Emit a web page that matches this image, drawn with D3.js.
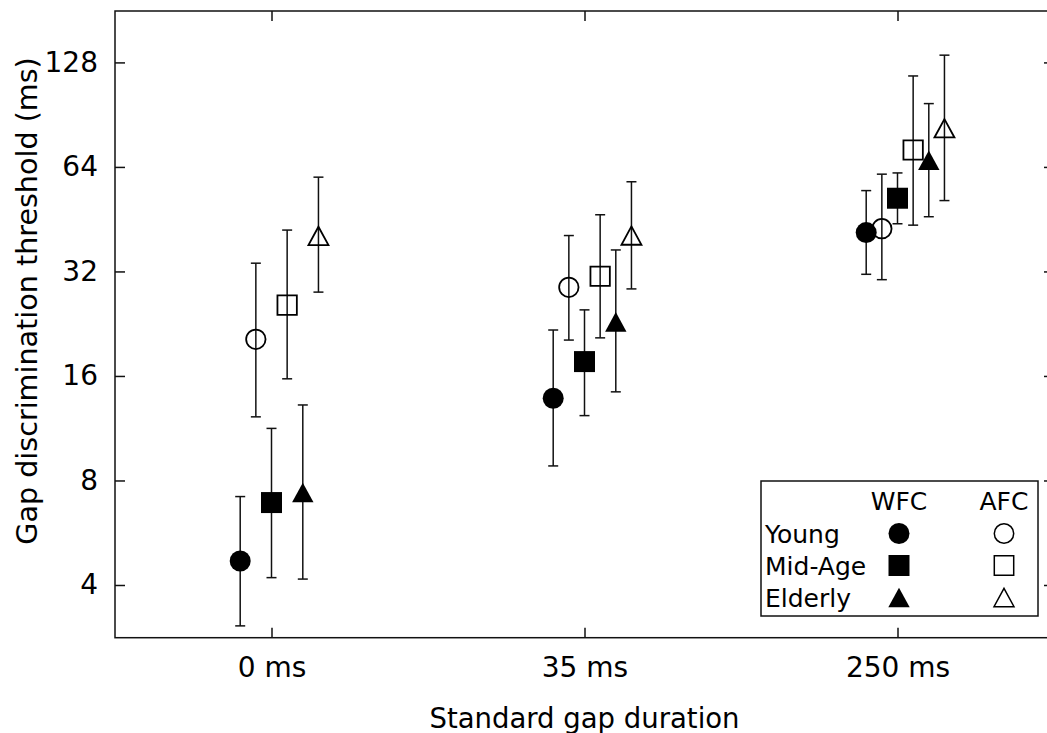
<!DOCTYPE html>
<html>
<head>
<meta charset="utf-8">
<script src="https://cdn.jsdelivr.net/npm/d3@7"></script>
<style>
  html, body { margin: 0; padding: 0; background: #fff; }
  svg { display: block; }
  text { font-family: "DejaVu Sans", sans-serif; fill: #000; }
</style>
</head>
<body>
<svg id="chart" width="1047" height="733"></svg>
<script>
// ---------------- DATA ----------------
const categories = ["0 ms", "35 ms", "250 ms"];
const seriesNames = ["Young WFC", "Young AFC", "Mid-Age WFC", "Mid-Age AFC", "Elderly WFC", "Elderly AFC"];
const seriesGroup = ["Young", "Young", "Mid-Age", "Mid-Age", "Elderly", "Elderly"];
const seriesShape = ["circle", "circle", "square", "square", "triangle", "triangle"];
const seriesFilled = [true, false, true, false, true, false];
const seriesOffset = [-0.1, -0.05, 0, 0.05, 0.1, 0.15]; // horizontal jitter in category units

// thresholds (ms) for each series at 0, 35, 250 ms
const youngWFC = [4.69, 13.8, 41.4];
const youngAFC = [20.4, 28.8, 42.5];
const midWFC   = [6.91, 17.6, 52.0];
const midAFC   = [25.6, 31.0, 71.6];
const eldWFC   = [7.39, 22.9, 66.9];
const eldAFC   = [40.5, 40.6, 82.7];

// error bar lower / upper ends (ms)
const youngWFCLow = [3.05, 8.81, 31.4],  youngWFCHigh = [7.19, 21.7, 54.7];
const youngAFCLow = [12.2, 20.3, 30.3],  youngAFCHigh = [33.8, 40.6, 61.0];
const midWFCLow   = [4.20, 12.3, 43.9],  midWFCHigh   = [11.3, 24.8, 61.5];
const midAFCLow   = [15.7, 20.6, 43.5],  midAFCHigh   = [42.1, 46.6, 117.0];
const eldWFCLow   = [4.16, 14.4, 46.0],  eldWFCHigh   = [13.2, 36.9, 97.4];
const eldAFCLow   = [27.9, 28.5, 51.2],  eldAFCHigh   = [59.8, 58.0, 134.3];

const yTicks = [4, 8, 16, 32, 64, 128];
const yTickLabels = ["4", "8", "16", "32", "64", "128"];
const yDomain = [2.82, 180];
const xTitle = "Standard gap duration";
const yTitle = "Gap discrimination threshold (ms)";
const legendCols = ["WFC", "AFC"];
const legendRows = ["Young", "Mid-Age", "Elderly"];

// ---------------- BUILD ----------------
const values = [youngWFC, youngAFC, midWFC, midAFC, eldWFC, eldAFC];
const lows = [youngWFCLow, youngAFCLow, midWFCLow, midAFCLow, eldWFCLow, eldAFCLow];
const highs = [youngWFCHigh, youngAFCHigh, midWFCHigh, midAFCHigh, eldWFCHigh, eldAFCHigh];

const points = [];
seriesNames.forEach((name, s) => {
  categories.forEach((c, i) => {
    points.push({
      s, name, cat: i,
      x: i + seriesOffset[s],
      v: values[s][i], lo: lows[s][i], hi: highs[s][i],
      shape: seriesShape[s], filled: seriesFilled[s]
    });
  });
});

const svg = d3.select("#chart");
const L = 115, R = 1054, T = 11, B = 637.7;

const x = d3.scaleLinear().domain([-0.5, 2.5]).range([L, R]);
const y = d3.scaleLog().base(2).domain(yDomain).range([B, T]);

const STROKE = "#111";

// symbol path generator
const MS = 21; // marker size
function symbolPath(shape, filled) {
  if (shape === "circle") {
    const r = filled ? 10.5 : 9.7;
    return `M${-r},0A${r},${r} 0 1,0 ${r},0A${r},${r} 0 1,0 ${-r},0Z`;
  }
  if (shape === "square") {
    const h = filled ? 10.5 : 9.7;
    return `M${-h},${-h}H${h}V${h}H${-h}Z`;
  }
  // triangle, bounding-box centred
  const w = filled ? 10.7 : 10.0, hh = filled ? 9.8 : 9.2;
  return `M0,${-hh}L${w},${hh}L${-w},${hh}Z`;
}

// axes frame (box)
const gAxes = svg.append("g");

// left axis with inward ticks
const yAxisL = d3.axisLeft(y).tickValues(yTicks).tickFormat((d, i) => yTickLabels[i]).tickSize(-10).tickPadding(17);
const gyl = gAxes.append("g").attr("transform", `translate(${L},0)`).call(yAxisL);
const yAxisR = d3.axisRight(y).tickValues(yTicks).tickFormat("").tickSize(-10);
const gyr = gAxes.append("g").attr("transform", `translate(${R},0)`).call(yAxisR);

const xAxisB = d3.axisBottom(x).tickValues([0, 1, 2]).tickFormat((d) => categories[d]).tickSize(-10).tickPadding(18);
const gxb = gAxes.append("g").attr("transform", `translate(0,${B})`).call(xAxisB);
const xAxisT = d3.axisTop(x).tickValues([0, 1, 2]).tickFormat("").tickSize(-10);
const gxt = gAxes.append("g").attr("transform", `translate(0,${T})`).call(xAxisT);

[gyl, gyr, gxb, gxt].forEach(g => {
  g.select(".domain").remove();
  g.selectAll(".tick line").attr("stroke", STROKE).attr("stroke-width", 1.5);
  g.selectAll("text").attr("font-size", 28).attr("font-family", "DejaVu Sans").attr("fill", "#000");
});
gxb.selectAll(".tick text").attr("dy", null).attr("y", null).attr("dominant-baseline", "alphabetic")
  .attr("transform", "translate(0,39)");

gAxes.append("rect")
  .attr("x", L).attr("y", T).attr("width", R - L).attr("height", B - T)
  .attr("fill", "none").attr("stroke", STROKE).attr("stroke-width", 1.5);

// error bars
const gErr = svg.append("g");
const cap = 5;
const eb = gErr.selectAll("g.eb").data(points).join("g").attr("class", "eb")
  .attr("stroke", STROKE).attr("stroke-width", 1.5).attr("fill", "none");
eb.append("line")
  .attr("x1", d => x(d.x)).attr("x2", d => x(d.x))
  .attr("y1", d => y(d.lo)).attr("y2", d => y(d.hi));
eb.append("line")
  .attr("x1", d => x(d.x) - cap).attr("x2", d => x(d.x) + cap)
  .attr("y1", d => y(d.lo)).attr("y2", d => y(d.lo));
eb.append("line")
  .attr("x1", d => x(d.x) - cap).attr("x2", d => x(d.x) + cap)
  .attr("y1", d => y(d.hi)).attr("y2", d => y(d.hi));

// markers
svg.append("g").selectAll("path.mk").data(points).join("path").attr("class", "mk")
  .attr("transform", d => `translate(${x(d.x)},${y(d.v)})`)
  .attr("d", d => symbolPath(d.shape, d.filled))
  .attr("fill", d => d.filled ? "#000" : "none")
  .attr("stroke", d => d.filled ? "none" : "#000")
  .attr("stroke-width", 1.8);

// axis titles
svg.append("text")
  .attr("x", (L + R) / 2).attr("y", 728)
  .attr("text-anchor", "middle").attr("font-size", 27.5)
  .text(xTitle);
svg.append("text")
  .attr("transform", "translate(37,301) rotate(-90)")
  .attr("text-anchor", "middle").attr("font-size", 28.6)
  .text(yTitle);

// legend
const lg = svg.append("g");
lg.append("rect").attr("x", 761).attr("y", 481).attr("width", 277).attr("height", 135)
  .attr("fill", "#fff").attr("stroke", STROKE).attr("stroke-width", 1.5);
const colX = [899, 1004];
const rowBase = [543, 575, 607];
lg.selectAll("text.hdr").data(legendCols).join("text").attr("class", "hdr")
  .attr("x", (d, i) => colX[i]).attr("y", 510).attr("text-anchor", "middle").attr("font-size", 25)
  .text(d => d);
lg.selectAll("text.row").data(legendRows).join("text").attr("class", "row")
  .attr("x", 765).attr("y", (d, i) => rowBase[i]).attr("font-size", 25)
  .text(d => d);
const legendItems = seriesNames.map((n, s) => ({
  row: legendRows.indexOf(seriesGroup[s]), col: seriesFilled[s] ? 0 : 1,
  shape: seriesShape[s], filled: seriesFilled[s]
}));
lg.selectAll("path.lk").data(legendItems).join("path").attr("class", "lk")
  .attr("transform", d => `translate(${colX[d.col]},${rowBase[d.row] - 9.5})`)
  .attr("d", d => symbolPath(d.shape, d.filled))
  .attr("fill", d => d.filled ? "#000" : "none")
  .attr("stroke", d => d.filled ? "none" : "#000")
  .attr("stroke-width", 1.5);
</script>
</body>
</html>
